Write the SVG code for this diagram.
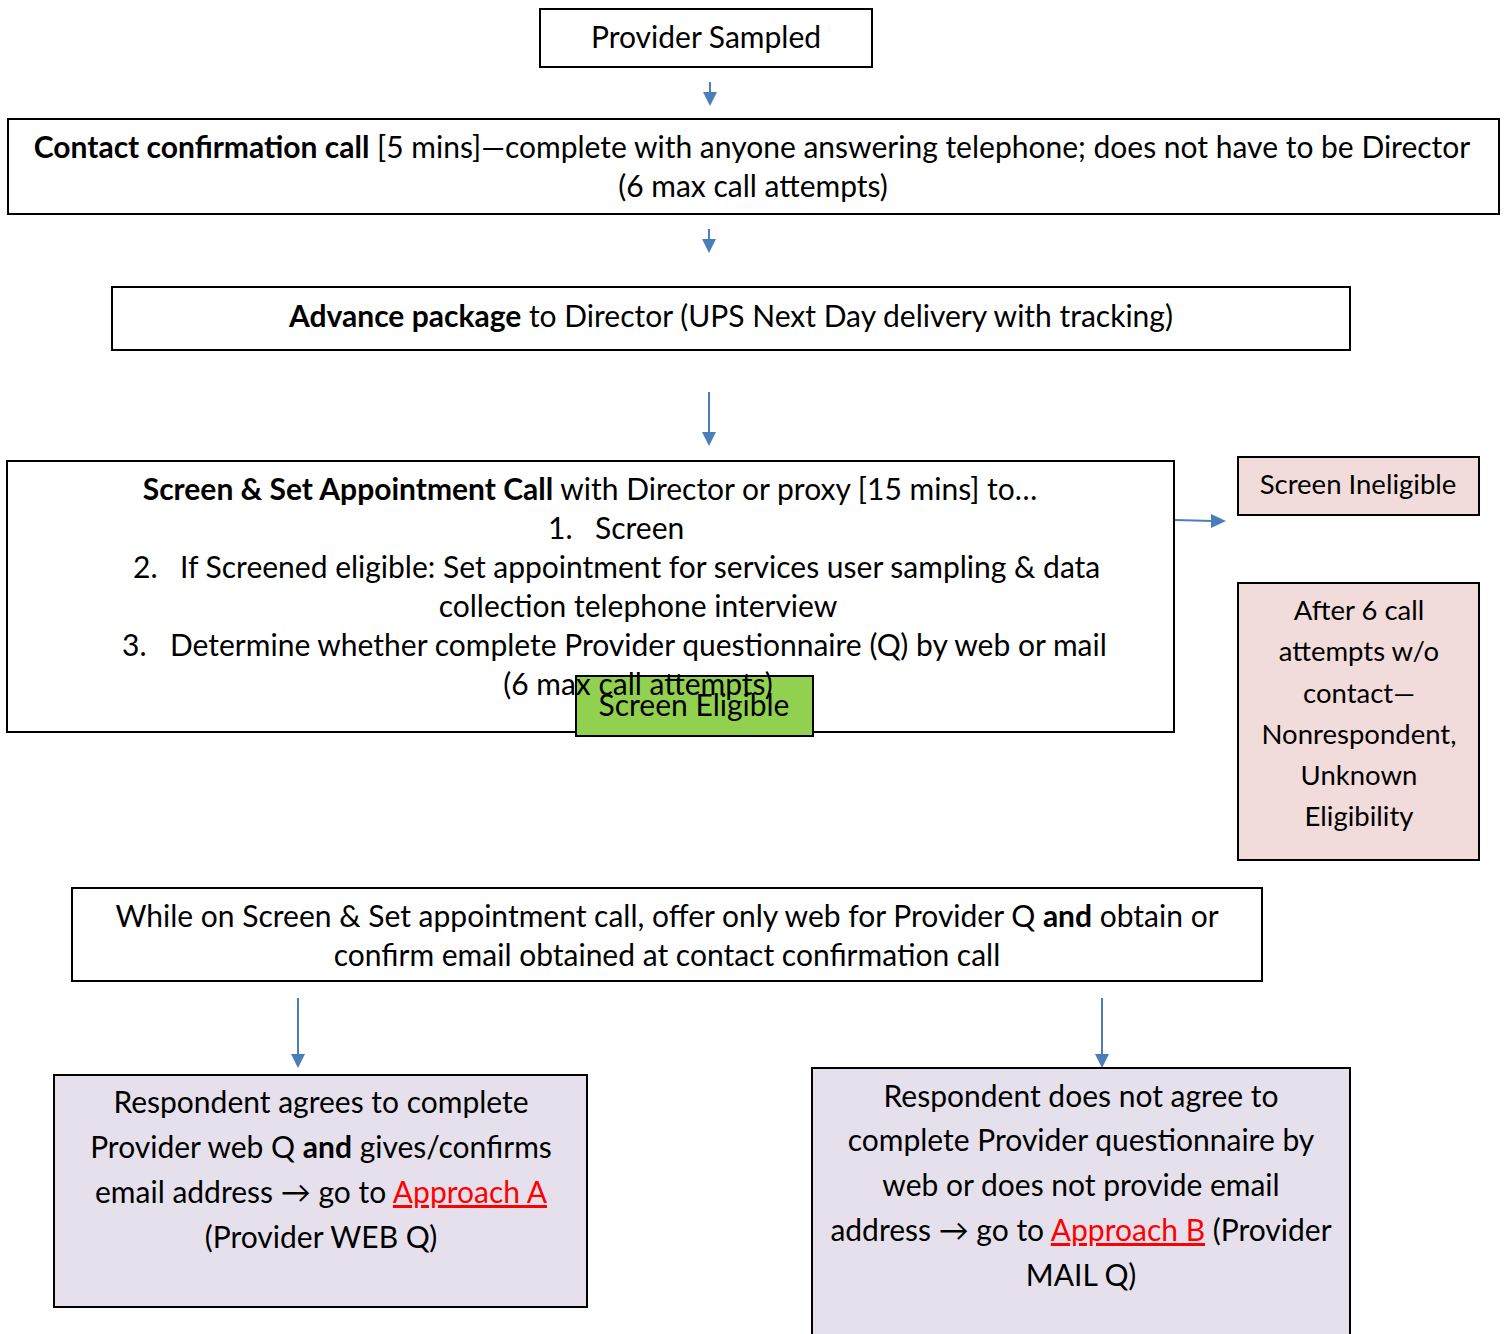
<svg xmlns="http://www.w3.org/2000/svg" width="1504" height="1334" viewBox="0 0 1504 1334">
<style>
text{font-family:Lato,"Liberation Sans",sans-serif;font-size:30px;fill:#000}
.c{text-anchor:middle}
.b{font-weight:bold}
.s{font-size:27.5px}
.box{fill:#fff;stroke:#000;stroke-width:2}
.pink{fill:#f2dcdb;stroke:#000;stroke-width:2}
.lav{fill:#e5e0ec;stroke:#000;stroke-width:2}
.green{fill:#92d050;stroke:#000;stroke-width:2}
.link{fill:#ff0000;text-decoration:underline}
.con{stroke:#4a7ebb;stroke-width:2;fill:none}
.head{fill:#4a7ebb}
</style>
<rect width="1504" height="1334" fill="#fff"/>
<g id="connectors">
<path class="con" d="M710,82 V94"/>
<path class="head" d="M703,92 L717,92 L710,106 Z"/>
<path class="con" d="M709,229 V241"/>
<path class="head" d="M702,239 L716,239 L709,253 Z"/>
<path class="con" d="M709,392 V434"/>
<path class="head" d="M702,432 L716,432 L709,446 Z"/>
<path class="con" d="M1175,520 L1213,521"/>
<path class="head" d="M1211,514 L1226,521 L1211,528 Z"/>
<path class="con" d="M298,998 V1056"/>
<path class="head" d="M291,1054 L305,1054 L298,1068 Z"/>
<path class="con" d="M1102,998 V1056"/>
<path class="head" d="M1095,1054 L1109,1054 L1102,1068 Z"/>
</g>
<g id="provider-sampled">
<rect class="box" x="540" y="9" width="332" height="58"/>
<text class="c" x="706" y="48">Provider Sampled</text>
</g>
<g id="contact-confirmation">
<rect class="box" x="8" y="119" width="1491" height="95"/>
<text class="c" x="752" y="158"><tspan class="b">Contact confirmation call</tspan> [5 mins]—complete with anyone answering telephone; does not have to be Director</text>
<text class="c" x="753" y="197">(6 max call attempts)</text>
</g>
<g id="advance-package">
<rect class="box" x="112" y="287" width="1238" height="63"/>
<text class="c" x="731" y="327"><tspan class="b">Advance package</tspan> to Director (UPS Next Day delivery with tracking)</text>
</g>
<g id="screen-set-call">
<rect class="box" x="7" y="461" width="1167" height="271"/>
</g>
<g id="screen-eligible">
<rect class="green" x="576" y="676" width="237" height="60"/>
<text class="c" x="694" y="716">Screen Eligible</text>
</g>
<g id="screen-set-call-text">
<text class="c" x="590" y="500"><tspan class="b">Screen &amp; Set Appointment Call</tspan> with Director or proxy [15 mins] to…</text>
<text x="548" y="539">1.</text><text x="595" y="539">Screen</text>
<text x="133" y="578">2.</text><text x="180" y="578">If Screened eligible: Set appointment for services user sampling &amp; data</text>
<text class="c" x="638" y="617">collection telephone interview</text>
<text x="122" y="656">3.</text><text x="170" y="656">Determine whether complete Provider questionnaire (Q) by web or mail</text>
<text class="c" x="638" y="695">(6 max call attempts)</text>
</g>
<g id="screen-ineligible">
<rect class="pink" x="1238" y="457" width="241" height="58"/>
<text class="c s" x="1358" y="494">Screen Ineligible</text>
</g>
<g id="nonrespondent">
<rect class="pink" x="1238" y="583" width="241" height="277"/>
<text class="c s" x="1359" y="620">After 6 call</text>
<text class="c s" x="1359" y="661">attempts w/o</text>
<text class="c s" x="1359" y="703">contact—</text>
<text class="c s" x="1359" y="744">Nonrespondent,</text>
<text class="c s" x="1359" y="785">Unknown</text>
<text class="c s" x="1359" y="826">Eligibility</text>
</g>
<g id="offer-web">
<rect class="box" x="72" y="888" width="1190" height="93"/>
<text class="c" x="667" y="927">While on Screen &amp; Set appointment call, offer only web for Provider Q <tspan class="b">and</tspan> obtain or</text>
<text class="c" x="667" y="966">confirm email obtained at contact confirmation call</text>
</g>
<g id="approach-a">
<rect class="lav" x="54" y="1075" width="533" height="232"/>
<text class="c" x="321" y="1113">Respondent agrees to complete</text>
<text class="c" x="321" y="1158">Provider web Q <tspan class="b">and</tspan> gives/confirms</text>
<text class="c" x="321" y="1203">email address → go to <tspan class="link">Approach A</tspan></text>
<text class="c" x="321" y="1248">(Provider WEB Q)</text>
</g>
<g id="approach-b">
<rect class="lav" x="812" y="1068" width="538" height="290"/>
<text class="c" x="1081" y="1107">Respondent does not agree to</text>
<text class="c" x="1081" y="1151">complete Provider questionnaire by</text>
<text class="c" x="1081" y="1196">web or does not provide email</text>
<text class="c" x="1081" y="1241">address → go to <tspan class="link">Approach B</tspan> (Provider</text>
<text class="c" x="1081" y="1286">MAIL Q)</text>
</g>
</svg>
